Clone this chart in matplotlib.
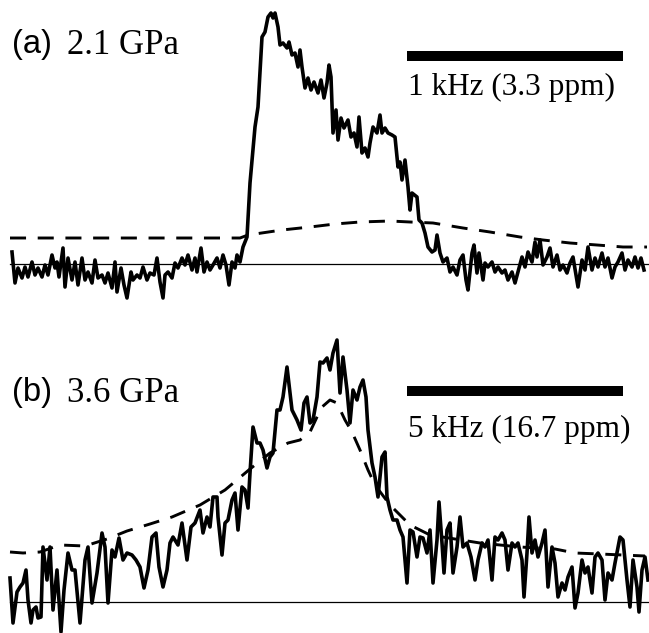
import matplotlib
matplotlib.use("Agg")
import matplotlib.pyplot as plt

# ---------------- data (x in channel units, y = amplitude above baseline) -------------
a_x = [12, 15, 18, 22, 25, 28, 32, 35, 38, 42, 45, 48, 52, 55, 57, 59, 63, 65, 68, 72,
       75, 78, 82, 85, 88, 92, 95, 98, 102, 105, 108, 112, 115, 117, 121, 124, 127, 131,
       133, 137, 140, 143, 147, 150, 154, 157, 160, 163, 165, 168, 172, 175, 178, 182,
       185, 188, 192, 195, 197, 201, 204, 207, 210, 213, 217, 220, 223, 226, 229, 232,
       235, 237, 240, 243,
       247, 250, 255, 258, 262, 265, 268, 271, 273, 275, 278, 280, 283, 287, 289, 292,
       295, 298, 300, 302, 305, 308, 311, 314, 318, 321, 324, 327, 329, 331, 333, 336,
       338, 341, 344, 348, 351, 354, 357, 359, 362, 365, 368, 370, 373, 377, 380, 382,
       385, 388, 392, 395, 398, 400, 402, 405, 408, 410, 412, 417, 419, 422, 425, 428,
       432, 435, 437, 440, 443,
       447, 450, 453, 457, 460, 463, 466, 468, 472, 474, 477, 479, 483, 485, 488, 492,
       495, 498, 502, 505, 508, 512, 515, 518, 522, 525, 528, 532, 535, 537, 540, 543,
       547, 550, 553, 557, 560, 563, 567, 570, 573, 576, 578, 582, 585, 588, 592, 595,
       598, 602, 605, 608, 612, 615, 618, 622, 625, 628, 632, 635, 638, 641, 644]
a_y = [12, -19, -4, -14, -3, -13, 2, -11, -4, -13, -1, -11, 9, -4, 2, -13, 16, -23, 6, -16,
       2, -21, 6, -16, -8, -19, 4, -14, -11, -19, -9, -24, 2, -28, -4, -21, -34, -8,
       -16, -11, -14, -3, -16, -9, -11, 6, -18, -34, -11, -8, -14, 1, -4, 6,
       -1, 9, -6, 6, -8, 16, -8, 2, -6, -1, 6, -4, 9, -1, -21, 2,
       -4, 9, 2, 17,
       27, 81, 137, 157, 227, 232, 247, 251, 246, 251, 237, 219, 221, 216, 222, 209,
       211, 197, 214, 197, 176, 186, 174, 182, 171, 184, 166, 181, 199, 187, 131, 154,
       124, 146, 136, 144, 127, 131, 117, 147, 111, 116, 107, 121, 137, 131, 149, 131,
       136, 131, 129, 127, 97, 102, 84, 104, 77, 54, 71, 67, 44, 41, 31, 17,
       12, 14, 29, 11, 2,
       6, -8, -3, -11, 4, 9, -16, -26, 11, 19, -9, 11, -16, 1, -3, 2,
       -8, -3, -9, -6, -16, -8, -19, -8, 7, -3, 12, 2, 22, 7, 24, -1,
       7, 16, -3, 9, -6, -1, -9, 1, 7, -11, -23, 4, -6, 17, -6, 6,
       -3, 11, -3, 6, -14, -3, 2, 11, -6, 4, -3, 7, -4, 6, -6]

a_fit_x = [10, 240, 248, 282, 310, 335, 360, 390, 410, 433, 463, 490, 520, 543, 570, 597, 623, 647]
a_fit_y = [26, 26, 29, 34, 37, 40, 42, 43, 42, 41, 36, 32, 27, 24, 21, 19, 17, 17]

b_x = [10, 13, 17, 20, 23, 26, 28, 31, 33, 36, 38, 41, 43, 47, 50, 53, 57, 61, 64, 68,
       72, 75, 80, 85, 88, 92, 97, 102, 105, 108, 112, 115, 119, 123, 127, 132, 136, 140,
       144, 148, 152, 156, 159, 163, 167, 170, 173, 178, 182, 187, 191, 195,
       200, 203, 207, 210, 213, 217, 218, 222, 225, 228, 232, 235, 238, 242, 245, 248,
       250, 253, 257, 260, 263, 267, 270, 273, 277, 280, 283, 287, 292, 297, 301, 304,
       307, 310, 313, 317, 320, 323, 327, 330, 333, 337, 340, 343, 347, 350, 353, 357,
       360, 363, 366, 368, 372, 375, 378, 382, 385, 387, 390, 393, 397, 400, 403, 407,
       410, 413, 417, 420, 423, 427, 430, 433, 437, 439, 442, 444, 447, 450, 453, 457,
       460, 463, 467, 471, 475, 478, 482, 485, 488, 492, 495, 498, 502, 505, 508, 512,
       515, 518, 522, 524, 527, 529, 532, 535, 538, 542, 545, 548, 552, 555, 558, 562,
       565, 568, 572, 575, 578, 582, 585, 588, 592, 595, 598, 602, 605, 608, 612, 615,
       620, 623, 627, 630, 633, 637, 639, 642, 645, 648]
b_y = [24, -21, 10, 15, 19, 32, 2, -21, -8, -5, -16, -15, 55, 22, 55, -8, 32, -30, 12, 49,
       32, 32, -21, 42, 55, -1, 29, 69, 55, -1, 52, 45, 64, 42, 49, 47, 42, 35,
       14, 32, 65, 69, 35, 15, 32, 59, 65, 57, 79, 42, 75, 79,
       92, 69, 85, 75, 105, 105, 85, 47, 79, 82, 102, 109, 72, 115, 112, 94,
       129, 175, 159, 159, 152, 134, 145, 149, 192, 192, 205, 235, 192, 182, 172, 199,
       205, 179, 182, 205, 240, 239, 244, 232, 249, 262, 209, 245, 212, 179, 212, 202,
       215, 222, 205, 172, 139, 125, 105, 145, 150, 105, 92, 82, 82, 72, 65, 19,
       72, 70, 45, 65, 64, 49, 72, 19, 62, 100, 59, 29, 72, 79, 29, 55,
       85, 55, 59, 45, 22, 42, 59, 55, 62, 22, 65, 62, 69, 62, 32, 59,
       55, 59, 42, 5, 49, 85, 49, 62, 45, 59, 72, 15, 55, 39, 5, 19,
       12, 25, 35, -6, 9, 42, 29, 35, 9, 45, 49, 42, 2, 29, 22, 39,
       65, 62, 22, -5, 42, 15, -10, 32, 45, 22]

b_fit_x = [10, 23, 40, 60, 85, 107, 127, 150, 172, 200, 225, 250, 270, 288, 300, 310, 317,
           322, 330, 337, 345, 352, 360, 368, 375, 390, 410, 430, 480, 520, 555, 575, 600, 645]
b_fit_y = [50, 49, 50, 57, 56, 63, 71, 78, 85, 97, 112, 133, 149, 159, 162, 170, 185,
           195, 202, 199, 182, 170, 152, 132, 117, 97, 77, 67, 59, 55, 53, 49, 48, 46]

labels_sans = ["(a)", "(b)"]
labels_serif = ["2.1 GPa", "3.6 GPa"]
scale_texts = ["1 kHz (3.3 ppm)", "5 kHz (16.7 ppm)"]

# ---------------- figure ----------------
W, H = 649, 633
fig = plt.figure(figsize=(W / 100, H / 100), dpi=100)
fig.patch.set_facecolor("white")

ax_a = fig.add_axes([0, (H - 300) / H, 1, 300 / H])
ax_b = fig.add_axes([0, 0, 1, 313 / H])
ax_a.set_ylim(-36, 264)
ax_b.set_ylim(-31, 282)

serif = ["Liberation Serif", "DejaVu Serif"]
sans = ["Liberation Sans", "DejaVu Sans"]

panels = [
    (ax_a, a_x, a_y, a_fit_x, a_fit_y, 0),
    (ax_b, b_x, b_y, b_fit_x, b_fit_y, 1),
]
label_y = [219, 209]
scale_text_y = [177, 173]
bar_y = [208, 211]

for ax, x, y, fx, fy, i in panels:
    ax.set_xlim(0, W)
    ax.axis("off")
    ax.plot([10, W], [0, 0], color="black", lw=0.9)
    ax.plot(fx, fy, color="black", lw=2.1, dashes=(5.5, 4.0), solid_capstyle="butt")
    ax.plot(x, y, color="black", lw=2.6, solid_joinstyle="round")
    ax.plot([407, 623], [bar_y[i], bar_y[i]], color="black", lw=7.2, solid_capstyle="butt")
    ax.text(12, label_y[i], labels_sans[i], fontsize=23.5, family=sans, va="center", ha="left")
    ax.text(67, label_y[i], labels_serif[i], fontsize=25, family=serif, va="center", ha="left")
    ax.text(408, scale_text_y[i], scale_texts[i], fontsize=22.5, family=serif, va="center", ha="left")

fig.savefig("out.png", dpi=100, facecolor="white")
